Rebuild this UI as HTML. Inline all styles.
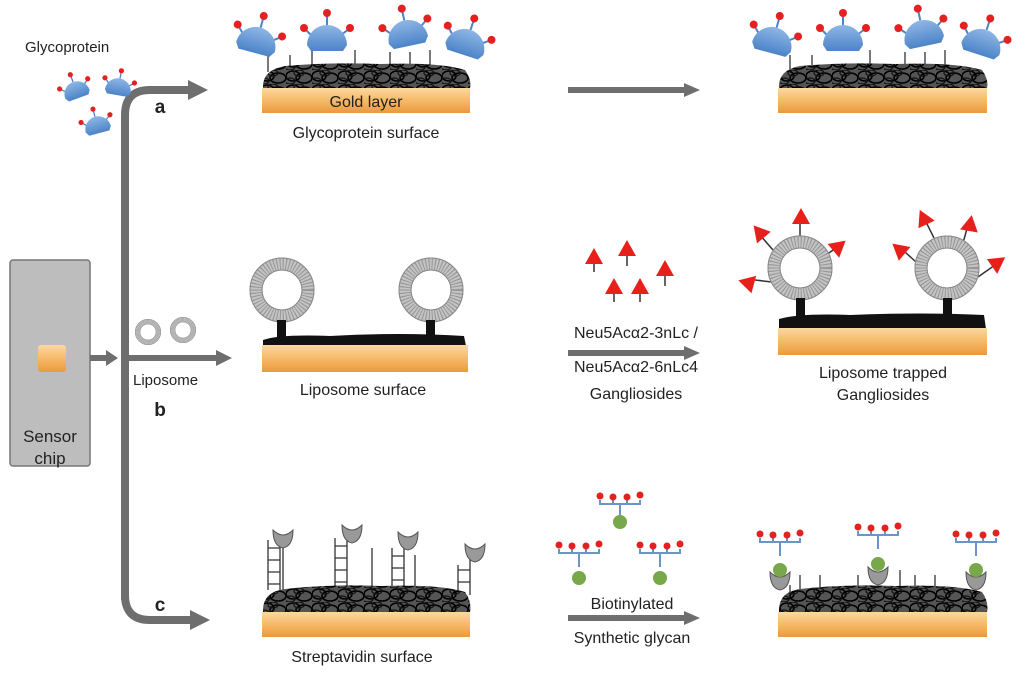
<!DOCTYPE html>
<html><head><meta charset="utf-8"><style>
html,body{margin:0;padding:0;background:#fff}
svg{display:block}
text{font-family:"Liberation Sans",sans-serif;fill:#222}
</style></head><body>
<svg width="1024" height="675" viewBox="0 0 1024 675" xmlns="http://www.w3.org/2000/svg">
<defs>
<linearGradient id="gold" x1="0" y1="0" x2="0" y2="1">
<stop offset="0" stop-color="#fbd8a0"/><stop offset="0.5" stop-color="#f6b968"/><stop offset="1" stop-color="#e99a3e"/></linearGradient>
<linearGradient id="blue" x1="0" y1="0" x2="0" y2="1">
<stop offset="0" stop-color="#8fb6e6"/><stop offset="1" stop-color="#4c84c8"/></linearGradient>
<pattern id="tangle" width="26" height="14" patternUnits="userSpaceOnUse">
<rect width="26" height="14" fill="#555"/>
<ellipse cx="7" cy="6" rx="7" ry="5" fill="none" stroke="#000" stroke-width="1.6"/>
<ellipse cx="18" cy="8" rx="8" ry="5" fill="none" stroke="#000" stroke-width="1.6"/>
<ellipse cx="13" cy="3" rx="5" ry="3" fill="none" stroke="#111" stroke-width="1.2"/>
<ellipse cx="4" cy="11" rx="5" ry="3" fill="none" stroke="#111" stroke-width="1.2"/>
</pattern>
<g id="gp">
<line x1="-14" y1="-6" x2="-22" y2="-14" stroke="#4c84c8" stroke-width="2"/>
<line x1="0" y1="-18" x2="0" y2="-28" stroke="#4c84c8" stroke-width="2"/>
<line x1="14" y1="-8" x2="22" y2="-14" stroke="#4c84c8" stroke-width="2"/>
<path d="M-20,2 A20,20 0 0 1 20,2 L16,8 L-16,8 Z" fill="url(#blue)"/>
<circle cx="-23" cy="-15" r="4" fill="#e52020"/>
<circle cx="0" cy="-30" r="4" fill="#e52020"/>
<circle cx="23" cy="-15" r="4" fill="#e52020"/>
</g>
<g id="lipo">
<circle r="26" fill="none" stroke="#c4c4c4" stroke-width="13"/>
<circle r="26" fill="none" stroke="#666" stroke-width="13" stroke-dasharray="1 2" opacity="0.5"/>
<circle r="32" fill="none" stroke="#888" stroke-width="1"/>
<circle r="20" fill="none" stroke="#888" stroke-width="1"/>
</g>
<g id="tri"><path d="M0,-10 L9,6 L-9,6 Z" fill="#e8201c"/></g>
<g id="glycan">
<path d="M-20,-4 L-20,0 L20,0 L20,-4 M-7,0 L-7,-4 M7,0 L7,-4 M0,0 L0,14" fill="none" stroke="#6a95c6" stroke-width="2"/>
<circle cx="-20" cy="-8" r="3.5" fill="#e52020"/><circle cx="-7" cy="-7" r="3.5" fill="#e52020"/>
<circle cx="7" cy="-7" r="3.5" fill="#e52020"/><circle cx="20" cy="-9" r="3.5" fill="#e52020"/>
</g>
<g id="cup"><path d="M-10,-8 Q0,2 10,-8 Q10,8 0,10 Q-10,8 -10,-8 Z" fill="#999" stroke="#555" stroke-width="1"/></g>
</defs>

<rect x="10" y="260" width="80" height="206" rx="3" fill="#bdbdbd" stroke="#777" stroke-width="1.5"/>
<rect x="38" y="345" width="28" height="27" rx="3" fill="url(#gold)"/>
<text x="50" y="442" font-size="17" text-anchor="middle">Sensor</text>
<text x="50" y="464" font-size="17" text-anchor="middle">chip</text>

<g stroke="#6e6e6e" stroke-width="8" fill="none">
<line x1="90" y1="358" x2="108" y2="358" stroke-width="6"/>
<path d="M125,600 L125,115 Q125,90 150,90 L190,90"/>
<path d="M125,560 L125,595 Q125,620 150,620 L192,620"/>
<line x1="125" y1="358" x2="218" y2="358" stroke-width="6"/>
<line x1="568" y1="90" x2="685" y2="90" stroke-width="6"/>
<line x1="568" y1="353" x2="685" y2="353" stroke-width="6"/>
<line x1="568" y1="618" x2="685" y2="618" stroke-width="6"/>
</g>
<g fill="#6e6e6e">
<path d="M106,350 L118,358 L106,366 Z"/>
<path d="M188,80 L208,90 L188,100 Z"/>
<path d="M190,610 L210,620 L190,630 Z"/>
<path d="M216,350 L232,358 L216,366 Z"/>
<path d="M684,83 L700,90 L684,97 Z"/>
<path d="M684,346 L700,353 L684,360 Z"/>
<path d="M684,611 L700,618 L684,625 Z"/>
</g>
<text x="160" y="113" font-size="19" font-weight="bold" text-anchor="middle">a</text>
<text x="160" y="416" font-size="19" font-weight="bold" text-anchor="middle">b</text>
<text x="160" y="611" font-size="19" font-weight="bold" text-anchor="middle">c</text>
<text x="25" y="52" font-size="15">Glycoprotein</text>
<text x="133" y="385" font-size="15">Liposome</text>
<use href="#lipo" transform="translate(148,332) scale(0.4)"/>
<use href="#lipo" transform="translate(183,330) scale(0.4)"/>

<use href="#gp" transform="translate(77,93) rotate(-20) scale(0.65)"/>
<use href="#gp" transform="translate(118,90) rotate(10) scale(0.65)"/>
<use href="#gp" transform="translate(98,128) rotate(-15) scale(0.65)"/>

<g stroke="#333" stroke-width="1.3">
<line x1="268" y1="55" x2="268" y2="72"/><line x1="290" y1="55" x2="290" y2="72"/><line x1="312" y1="48" x2="312" y2="72"/><line x1="355" y1="50" x2="355" y2="72"/><line x1="390" y1="52" x2="390" y2="72"/><line x1="410" y1="52" x2="410" y2="72"/><line x1="430" y1="50" x2="430" y2="72"/>
</g>
<path d="M263,88 Q262,70 285,66 Q330,62 380,64 Q440,62 465,70 Q472,80 470,88 Z" fill="url(#tangle)"/>
<rect x="262" y="88" width="208" height="25" fill="url(#gold)"/>
<text x="366" y="107" font-size="16" text-anchor="middle">Gold layer</text>
<text x="366" y="138" font-size="16" text-anchor="middle">Glycoprotein surface</text>
<use href="#gp" transform="translate(256,45) rotate(15)"/>
<use href="#gp" transform="translate(327,43)"/>
<use href="#gp" transform="translate(408,38) rotate(-12)"/>
<use href="#gp" transform="translate(465,47) rotate(18)"/>

<g stroke="#333" stroke-width="1.3">
<line x1="790" y1="55" x2="790" y2="72"/><line x1="812" y1="55" x2="812" y2="72"/><line x1="870" y1="50" x2="870" y2="72"/><line x1="905" y1="52" x2="905" y2="72"/><line x1="925" y1="52" x2="925" y2="72"/><line x1="945" y1="50" x2="945" y2="72"/>
</g>
<path d="M779,88 Q778,70 800,66 Q845,62 895,64 Q955,62 982,70 Q989,80 987,88 Z" fill="url(#tangle)"/>
<rect x="778" y="88" width="209" height="25" fill="url(#gold)"/>
<use href="#gp" transform="translate(772,45) rotate(15)"/>
<use href="#gp" transform="translate(843,43)"/>
<use href="#gp" transform="translate(924,38) rotate(-12)"/>
<use href="#gp" transform="translate(981,47) rotate(18)"/>

<use href="#lipo" transform="translate(282,290)"/>
<use href="#lipo" transform="translate(431,290)"/>
<rect x="277" y="320" width="9" height="20" fill="#111"/>
<rect x="426" y="320" width="9" height="20" fill="#111"/>
<path d="M263,340 Q280,334 330,336 Q400,332 464,336 L466,346 L263,346 Z" fill="#111"/>
<rect x="262" y="345" width="206" height="27" fill="url(#gold)"/>
<text x="363" y="395" font-size="16" text-anchor="middle">Liposome surface</text>

<g stroke="#333" stroke-width="1.5">
<line x1="594" y1="258" x2="594" y2="272"/><line x1="627" y1="250" x2="627" y2="266"/><line x1="665" y1="270" x2="665" y2="286"/><line x1="614" y1="288" x2="614" y2="302"/><line x1="640" y1="288" x2="640" y2="302"/>
</g>
<use href="#tri" transform="translate(594,258)"/>
<use href="#tri" transform="translate(627,250)"/>
<use href="#tri" transform="translate(665,270)"/>
<use href="#tri" transform="translate(614,288)"/>
<use href="#tri" transform="translate(640,288)"/>
<text x="636" y="338" font-size="16" text-anchor="middle">Neu5Acα2-3nLc /</text>
<text x="636" y="372" font-size="16" text-anchor="middle">Neu5Acα2-6nLc4</text>
<text x="636" y="399" font-size="16" text-anchor="middle">Gangliosides</text>

<g stroke="#333" stroke-width="1.5">
<line x1="800" y1="236" x2="800" y2="218"/><line x1="773" y1="250" x2="760" y2="235"/><line x1="826" y1="255" x2="836" y2="248"/><line x1="772" y1="282" x2="755" y2="280"/>
<line x1="934" y1="238" x2="925" y2="220"/><line x1="963" y1="243" x2="968" y2="225"/><line x1="916" y1="262" x2="905" y2="252"/><line x1="978" y1="277" x2="995" y2="265"/>
</g>
<use href="#lipo" transform="translate(800,268)"/>
<use href="#lipo" transform="translate(947,268)"/>
<use href="#tri" transform="translate(801,218)"/>
<use href="#tri" transform="translate(760,233) rotate(-40)"/>
<use href="#tri" transform="translate(838,247) rotate(50)"/>
<use href="#tri" transform="translate(748,283) rotate(-75)"/>
<use href="#tri" transform="translate(924,219) rotate(-25)"/>
<use href="#tri" transform="translate(970,225) rotate(10)"/>
<use href="#tri" transform="translate(900,250) rotate(-50)"/>
<use href="#tri" transform="translate(997,263) rotate(55)"/>
<rect x="796" y="298" width="9" height="20" fill="#111"/>
<rect x="943" y="298" width="9" height="20" fill="#111"/>
<path d="M779,319 Q800,313 850,315 Q920,312 984,315 L986,329 L779,329 Z" fill="#111"/>
<rect x="778" y="328" width="209" height="27" fill="url(#gold)"/>
<text x="883" y="378" font-size="16" text-anchor="middle">Liposome trapped</text>
<text x="883" y="400" font-size="16" text-anchor="middle">Gangliosides</text>

<g stroke="#333" stroke-width="1.3" fill="none">
<path d="M268,590 L268,540 M280,590 L280,540 M268,548 H280 M268,560 H280 M268,572 H280 M268,584 H280"/>
<path d="M335,590 L335,538 M347,590 L347,538 M335,546 H347 M335,558 H347 M335,570 H347 M335,582 H347"/>
<path d="M392,590 L392,548 M404,590 L404,548 M392,556 H404 M392,568 H404 M392,580 H404"/>
<path d="M458,595 L458,565 M470,595 L470,558 M458,570 H470 M458,582 H470"/>
<line x1="283" y1="545" x2="283" y2="590"/><line x1="372" y1="548" x2="372" y2="590"/><line x1="415" y1="555" x2="415" y2="590"/>
</g>
<use href="#cup" transform="translate(283,538)"/>
<use href="#cup" transform="translate(352,533)"/>
<use href="#cup" transform="translate(408,540)"/>
<use href="#cup" transform="translate(475,552)"/>
<path d="M263,612 Q262,592 285,589 Q330,584 380,586 Q440,584 465,592 Q472,602 470,612 Z" fill="url(#tangle)"/>
<rect x="262" y="612" width="208" height="25" fill="url(#gold)"/>
<text x="362" y="662" font-size="16" text-anchor="middle">Streptavidin surface</text>

<use href="#glycan" transform="translate(620,504)"/>
<circle cx="620" cy="522" r="7" fill="#78a84a"/>
<use href="#glycan" transform="translate(579,553)"/>
<circle cx="579" cy="578" r="7" fill="#78a84a"/>
<use href="#glycan" transform="translate(660,553)"/>
<circle cx="660" cy="578" r="7" fill="#78a84a"/>
<text x="632" y="609" font-size="16" text-anchor="middle">Biotinylated</text>
<text x="632" y="643" font-size="16" text-anchor="middle">Synthetic glycan</text>

<g stroke="#333" stroke-width="1.3">
<line x1="790" y1="585" x2="790" y2="600"/><line x1="800" y1="575" x2="800" y2="595"/><line x1="820" y1="575" x2="820" y2="595"/><line x1="858" y1="575" x2="858" y2="595"/><line x1="900" y1="570" x2="900" y2="595"/><line x1="915" y1="575" x2="915" y2="595"/><line x1="935" y1="575" x2="935" y2="595"/>
</g>
<path d="M779,612 Q778,592 800,589 Q845,584 895,586 Q955,584 982,592 Q989,602 987,612 Z" fill="url(#tangle)"/>
<rect x="778" y="612" width="209" height="25" fill="url(#gold)"/>
<use href="#glycan" transform="translate(780,542)"/>
<use href="#cup" transform="translate(780,580)"/>
<circle cx="780" cy="570" r="7" fill="#78a84a"/>
<use href="#glycan" transform="translate(878,535)"/>
<use href="#cup" transform="translate(878,575)"/>
<circle cx="878" cy="564" r="7" fill="#78a84a"/>
<use href="#glycan" transform="translate(976,542)"/>
<use href="#cup" transform="translate(976,580)"/>
<circle cx="976" cy="570" r="7" fill="#78a84a"/>
</svg>
</body></html>
